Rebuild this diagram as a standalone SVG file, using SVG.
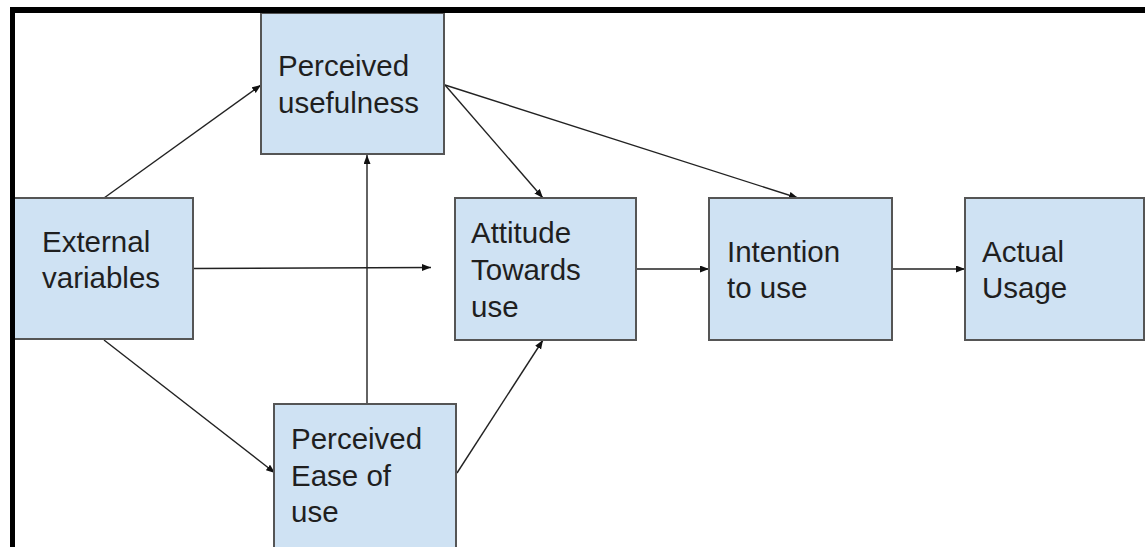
<svg xmlns="http://www.w3.org/2000/svg" width="1145" height="547" viewBox="0 0 1145 547">
<style>
.box{fill:#cfe2f3;stroke:#555;stroke-width:2}
.t{font-family:"Liberation Sans",Arial,sans-serif;font-size:29.5px;fill:#1f1f1f}
.c{stroke:#222;stroke-width:1.4;fill:none;marker-end:url(#ah)}
</style>
<defs>
<marker id="ah" markerUnits="userSpaceOnUse" markerWidth="10" markerHeight="8" refX="9" refY="3.5" orient="auto">
<path d="M0,0 L9,3.5 L0,7 z" fill="#111"/>
</marker>
</defs>
<rect x="0" y="0" width="1145" height="547" fill="#fff"/>
<g id="connectors">
<line class="c" x1="104" y1="198" x2="261" y2="85"/>
<line class="c" x1="445" y1="85" x2="543" y2="198"/>
<line class="c" x1="445" y1="85" x2="798" y2="198"/>
<line class="c" x1="193" y1="268.5" x2="431" y2="267.5"/>
<line class="c" x1="367" y1="404" x2="367" y2="155"/>
<line class="c" x1="104" y1="340" x2="275" y2="473"/>
<line class="c" x1="457" y1="473" x2="543" y2="340"/>
<line class="c" x1="636" y1="269" x2="709" y2="269"/>
<line class="c" x1="892" y1="269" x2="965" y2="269"/>
</g>
<g id="pu">
<rect class="box" x="261" y="13" width="183" height="141"/>
<text class="t" x="278" y="76">Perceived</text>
<text class="t" x="278" y="113">usefulness</text>
</g>
<g id="ev">
<rect class="box" x="14" y="198" width="179" height="141"/>
<text class="t" x="42" y="252">External</text>
<text class="t" x="42" y="288">variables</text>
</g>
<g id="att">
<rect class="box" x="455" y="198" width="181" height="142"/>
<text class="t" x="471" y="243">Attitude</text>
<text class="t" x="471" y="280">Towards</text>
<text class="t" x="471" y="317">use</text>
</g>
<g id="int">
<rect class="box" x="709" y="198" width="183" height="142"/>
<text class="t" x="727" y="262">Intention</text>
<text class="t" x="727" y="298">to use</text>
</g>
<g id="au">
<rect class="box" x="965" y="198" width="179" height="142"/>
<text class="t" x="982" y="262">Actual</text>
<text class="t" x="982" y="298">Usage</text>
</g>
<g id="peou">
<rect class="box" x="274" y="404" width="182" height="150"/>
<text class="t" x="291" y="449">Perceived</text>
<text class="t" x="291" y="486">Ease of</text>
<text class="t" x="291" y="522">use</text>
</g>
<g id="frame">
<rect x="10" y="7" width="1135" height="6" fill="#000"/>
<rect x="10" y="7" width="5" height="540" fill="#000"/>
</g>
</svg>
